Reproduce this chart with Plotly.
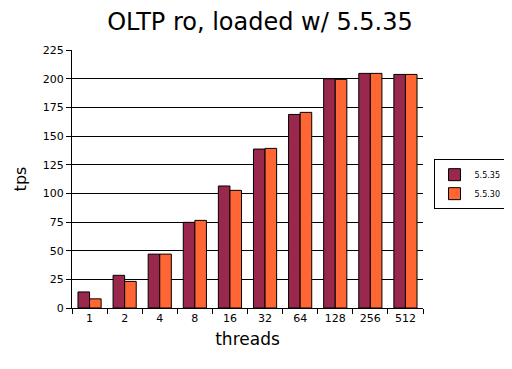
import plotly.graph_objects as go

threads = ["1", "2", "4", "8", "16", "32", "64", "128", "256", "512"]
v5535 = [14, 28.5, 47, 74.7, 106.4, 138.6, 168.8, 199.9, 204.6, 203.7]
v5530 = [8, 23.2, 47, 76.4, 102.6, 139.2, 170.6, 199.4, 204.6, 203.7]
yticks = [0, 25, 50, 75, 100, 125, 150, 175, 200, 225]

font = "DejaVu Sans"
fig = go.Figure()
fig.add_trace(go.Bar(x=threads, y=v5535, name="5.5.35",
                     marker=dict(color="#99284C", line=dict(color="black", width=1))))
fig.add_trace(go.Bar(x=threads, y=v5530, name="5.5.30",
                     marker=dict(color="#FF6633", line=dict(color="black", width=1))))
# page body has an 8px margin; size the figure so the plot lands where the reference has it
fig.update_layout(
    width=504, height=361,
    margin=dict(l=64, r=89, t=42, b=61, autoexpand=False),
    paper_bgcolor="white", plot_bgcolor="white",
    font=dict(family=font, color="black"),
    title=dict(text="OLTP ro, loaded w/ 5.5.35", x=0.5, xanchor="center",
               y=0.961, yanchor="middle", font=dict(size=24, family=font)),
    barmode="group", bargap=0.34, bargroupgap=0,
    showlegend=True,
    legend=dict(x=1.03, xanchor="left", y=0.48, yanchor="middle",
                bordercolor="black", borderwidth=1, font=dict(size=8),
                itemwidth=30, tracegroupgap=0),
    xaxis=dict(title=dict(text="threads", font=dict(size=17), standoff=8),
               showline=True, linecolor="black", linewidth=1,
               ticks="outside", tickson="boundaries", ticklen=5, tickcolor="black",
               tickfont=dict(size=11), showgrid=False, automargin=False),
    yaxis=dict(title=dict(text="tps", font=dict(size=16), standoff=12),
               range=[0, 225], tickvals=yticks, showline=True, linecolor="black",
               linewidth=1, ticks="outside", ticklen=5, tickcolor="black",
               tickfont=dict(size=11), showgrid=True, gridcolor="black", gridwidth=1,
               zeroline=False, automargin=False),
)
fig.write_html("out.html")
